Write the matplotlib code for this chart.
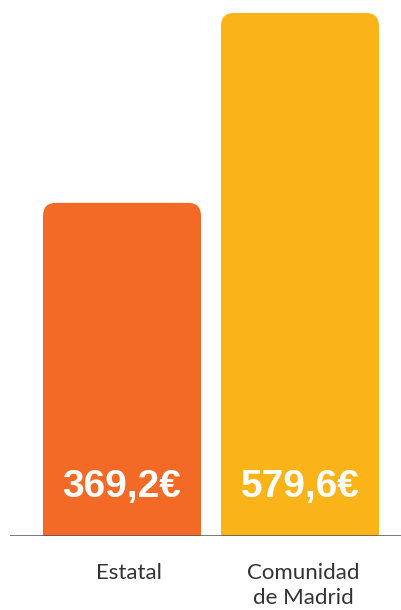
import matplotlib.pyplot as plt
from matplotlib.patches import FancyBboxPatch

# data
categories = ['Estatal', 'Comunidad\nde Madrid']
values = [369.2, 579.6]
labels = ['369,2€', '579,6€']
colors = ['#F26A26', '#FAB41A']

W, H = 402, 610
fig = plt.figure(figsize=(W / 100, H / 100), dpi=100)
# axes from x=10px to right edge, baseline at y=536px, top at 13px
ax = fig.add_axes([10 / W, 74 / H, 392 / W, 523 / H])

step = 178.0  # px between bar centres
bw = 158 / step
ax.set_xlim(-112 / step, 280 / step)
ax.set_ylim(0, max(values))

rx = 13 / step
ry = 13 / 523 * max(values)
for i, (v, c) in enumerate(zip(values, colors)):
    p = FancyBboxPatch((i - bw / 2, -50), bw, v + 50,
                       boxstyle='round,pad=0,rounding_size=%f' % rx,
                       mutation_aspect=ry / rx,
                       facecolor=c, edgecolor='none')
    ax.add_patch(p)
    ax.text(i, 49 / 523 * max(values), labels[i], ha='center', va='center',
            color='white', fontsize=28, fontweight='bold',
            family=['Liberation Sans', 'DejaVu Sans'])

ax.axhline(0, color='#555555', lw=1.1)

shift = [7 / step, 3 / step]
for i, cat in enumerate(categories):
    ax.text(i + shift[i], -27 / 523 * max(values), cat, ha='center', va='top',
            fontsize=16, color='#333333', family='Lato',
            linespacing=1.3, clip_on=False)

ax.axis('off')
fig.savefig('out.png', dpi=100)
